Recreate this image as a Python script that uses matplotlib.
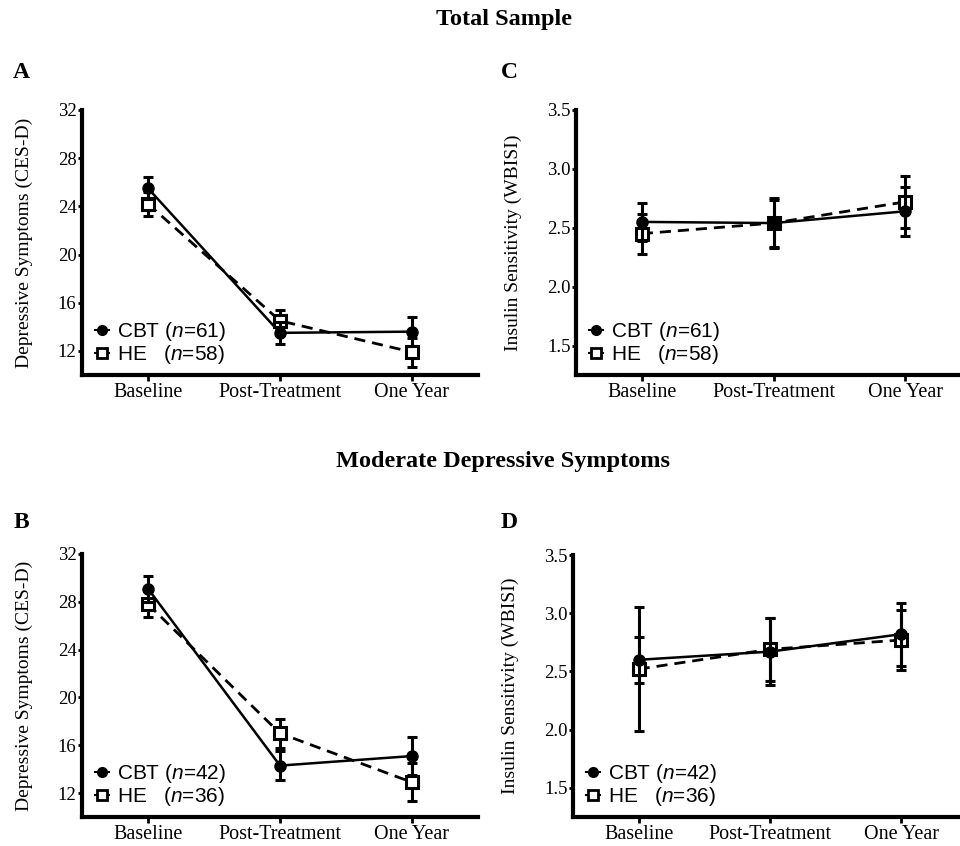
import numpy as np
import matplotlib
matplotlib.use('Agg')
from matplotlib import pyplot as plt

plt.rcParams['font.family'] = 'Liberation Serif'
plt.rcParams['mathtext.fontset'] = 'custom'
plt.rcParams['mathtext.it'] = 'Liberation Sans:italic'
plt.rcParams['mathtext.rm'] = 'Liberation Sans'

timepoints = ['Baseline', 'Post-Treatment', 'One Year']

# panel A: total sample, CES-D
a_cbt = [25.5, 13.5, 13.6]
a_cbt_err = [0.9, 0.9, 1.2]
a_he = [24.2, 14.5, 11.9]
a_he_err = [1.0, 0.9, 1.2]

# panel C: total sample, WBISI
c_cbt = [2.55, 2.54, 2.64]
c_cbt_err = [0.16, 0.21, 0.21]
c_he = [2.45, 2.54, 2.72]
c_he_err = [0.17, 0.20, 0.22]

# panel B: moderate symptoms, CES-D
b_cbt = [29.1, 14.3, 15.1]
b_cbt_err = [1.1, 1.2, 1.6]
b_he = [27.8, 17.0, 12.9]
b_he_err = [1.1, 1.2, 1.6]

# panel D: moderate symptoms, WBISI
d_cbt = [2.60, 2.67, 2.82]
d_cbt_err = [0.20, 0.29, 0.27]
d_he = [2.52, 2.69, 2.77]
d_he_err = [0.53, 0.27, 0.26]

cesd_ticks = [12, 16, 20, 24, 28, 32]
wbisi_ticks = [1.5, 2.0, 2.5, 3.0, 3.5]

W, H = 960, 846
fig = plt.figure(figsize=[W / 100, H / 100], dpi=100)


def box(left, top, right, bottom):
    return [left / W, 1 - bottom / H, (right - left) / W, (bottom - top) / H]


def panel(edges, label_x, cbt, cbt_err, he, he_err, ylim, yticks, yfmt, ylabel,
          n_cbt, n_he):
    ax = fig.add_axes(box(*edges))
    x = np.arange(len(timepoints))
    ax.errorbar(x, he, yerr=he_err, color='black', ls='--', lw=2.0, marker='s',
                ms=9, mfc='white', mec='black', mew=2.2, capsize=3.8, capthick=2.2,
                elinewidth=2.2, dashes=(4, 2.5), zorder=3)
    ax.errorbar(x, cbt, yerr=cbt_err, color='black', ls='-', lw=1.8, marker='o',
                ms=8, mfc='black', mec='black', capsize=3.8, capthick=2.2,
                elinewidth=2.2, zorder=4)
    ax.set_xlim(-0.5, 2.5)
    ax.set_ylim(*ylim)
    ax.set_yticks(yticks)
    ax.set_yticklabels([yfmt.format(v) for v in yticks])
    ax.set_xticks(x)
    ax.set_xticklabels(timepoints)
    ax.spines['top'].set_visible(False)
    ax.spines['right'].set_visible(False)
    ax.spines['left'].set_linewidth(3)
    ax.spines['bottom'].set_linewidth(3)
    ax.tick_params(axis='y', length=3, width=2, labelsize=13.5, pad=1)
    ax.tick_params(axis='x', length=4, width=2, labelsize=14.5, pad=2)
    ax.set_ylabel(ylabel, fontsize=14)
    left, top, right, bottom = edges
    ax.yaxis.set_label_coords((label_x - left) / (right - left), 0.5)

    h1 = plt.Line2D([], [], color='black', lw=1.5, marker='o', ms=7)
    h2 = plt.Line2D([], [], color='black', lw=1.5, marker='s', ms=7,
                    mfc='white', mew=2)
    ax.legend([h1, h2], [f'CBT ($n$={n_cbt})', f'HE   ($n$={n_he})'],
              loc='lower left', bbox_to_anchor=(0.0, -0.015), frameon=False,
              handlelength=0.7, handletextpad=0.4, labelspacing=0.0,
              borderaxespad=0.2,
              prop={'family': 'Liberation Sans', 'size': 15})
    return ax


panel((82, 110, 478, 375), 33, a_cbt, a_cbt_err, a_he, a_he_err, (10, 32),
      cesd_ticks, '{:d}', 'Depressive Symptoms (CES-D)', 61, 58)
panel((576, 110, 971, 375), 522, c_cbt, c_cbt_err, c_he, c_he_err, (1.25, 3.5),
      wbisi_ticks, '{:.1f}', 'Insulin Sensitivity (WBISI)', 61, 58)
panel((82, 554, 478, 817), 33, b_cbt, b_cbt_err, b_he, b_he_err, (10, 32),
      cesd_ticks, '{:d}', 'Depressive Symptoms (CES-D)', 42, 36)
panel((573, 555, 967, 817), 519, d_cbt, d_cbt_err, d_he, d_he_err, (1.25, 3.5),
      wbisi_ticks, '{:.1f}', 'Insulin Sensitivity (WBISI)', 42, 36)

fig.text(504 / W, 1 - 20 / H, 'Total Sample', ha='center', va='center',
         fontsize=17.5, fontweight='bold')
fig.text(503 / W, 1 - 461 / H, 'Moderate Depressive Symptoms', ha='center',
         va='center', fontsize=17.5, fontweight='bold')
for lbl, px, py in [('A', 21, 73), ('C', 509, 73), ('B', 21, 522), ('D', 509, 522)]:
    fig.text(px / W, 1 - py / H, lbl, ha='center', va='center', fontsize=17,
             fontweight='bold')

fig.savefig('out.png', dpi=100)
